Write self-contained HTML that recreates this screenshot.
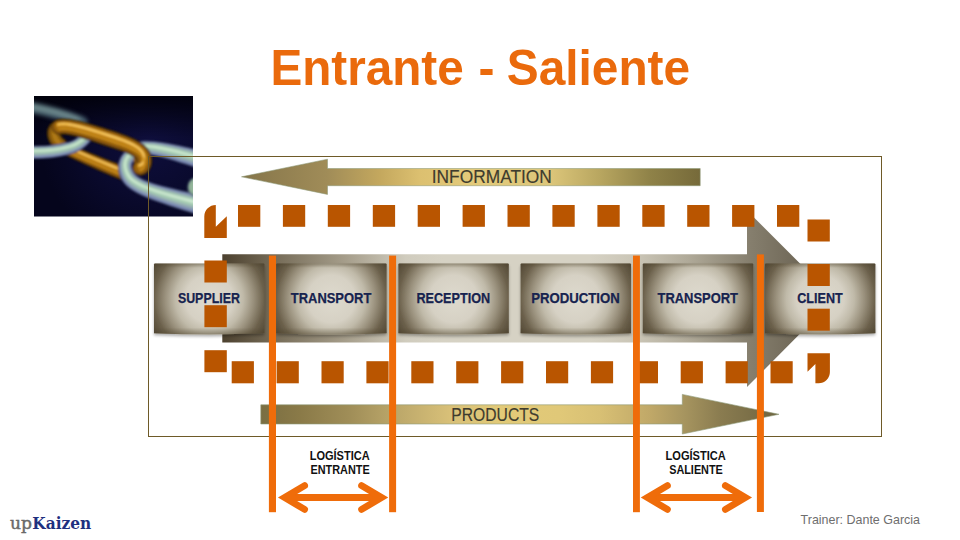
<!DOCTYPE html>
<html lang="es">
<head>
<meta charset="utf-8">
<title>Entrante - Saliente</title>
<style>
html,body{margin:0;padding:0;background:#fff;}
body{width:960px;height:540px;overflow:hidden;position:relative;font-family:"Liberation Sans",sans-serif;}
svg{position:absolute;left:0;top:0;display:block;}
text{font-family:"Liberation Sans",sans-serif;}
.title{font-weight:bold;font-size:48px;fill:#EA6A0C;}
.bl{font-weight:bold;font-size:14.6px;fill:#17234F;stroke:#17234F;stroke-width:0.25px;}
.arr{font-size:18.2px;fill:#3E3C2E;stroke:#3E3C2E;stroke-width:0.15px;}
.lg{font-weight:bold;font-size:12.2px;fill:#111;}
.tr{font-size:12.6px;fill:#6e6e6e;}
.up{font-family:"DejaVu Serif","Liberation Serif",serif;font-size:17.3px;fill:#6A6A6A;stroke:#6A6A6A;stroke-width:0.45px;}
.kz{font-family:"DejaVu Serif","Liberation Serif",serif;font-size:17.3px;font-weight:bold;fill:#1E3080;}
</style>
</head>
<body>
<svg width="960" height="540" viewBox="0 0 960 540">
<defs>
<radialGradient id="gbox" cx="55.2" cy="35.3" r="66" gradientUnits="userSpaceOnUse">
<stop offset="0" stop-color="#DEDACE"/>
<stop offset="0.36" stop-color="#D6D1C4"/>
<stop offset="0.515" stop-color="#C0BAA9"/>
<stop offset="0.667" stop-color="#9A917D"/>
<stop offset="0.833" stop-color="#6B604B"/>
<stop offset="1" stop-color="#4F4532"/>
</radialGradient>
<linearGradient id="gedge" gradientUnits="userSpaceOnUse" x1="0" y1="0" x2="0" y2="71">
<stop offset="0" stop-color="#50462F" stop-opacity="0.38"/>
<stop offset="0.06" stop-color="#50462F" stop-opacity="0"/>
<stop offset="0.9" stop-color="#50462F" stop-opacity="0"/>
<stop offset="1" stop-color="#50462F" stop-opacity="0.45"/>
</linearGradient>
<linearGradient id="gbig" gradientUnits="userSpaceOnUse" x1="222" y1="0" x2="835" y2="0">
<stop offset="0" stop-color="#4C412F"/>
<stop offset="0.08" stop-color="#736955"/>
<stop offset="0.2" stop-color="#A59D8A"/>
<stop offset="0.3" stop-color="#D0CCBE"/>
<stop offset="0.36" stop-color="#D6D2C4"/>
<stop offset="0.6" stop-color="#D6D2C4"/>
<stop offset="0.68" stop-color="#C9C4B5"/>
<stop offset="0.76" stop-color="#B0AA99"/>
<stop offset="0.86" stop-color="#867F6E"/>
<stop offset="1" stop-color="#5F5747"/>
</linearGradient>
<linearGradient id="ginfo" gradientUnits="userSpaceOnUse" x1="241" y1="0" x2="700" y2="0">
<stop offset="0.000" stop-color="#85754A"/>
<stop offset="0.187" stop-color="#A08C58"/>
<stop offset="0.303" stop-color="#C4A85E"/>
<stop offset="0.390" stop-color="#DCC070"/>
<stop offset="0.499" stop-color="#E3CA7A"/>
<stop offset="0.673" stop-color="#DCC67A"/>
<stop offset="0.782" stop-color="#B8A660"/>
<stop offset="0.891" stop-color="#8F8248"/>
<stop offset="1.000" stop-color="#766A3A"/>
</linearGradient>
<linearGradient id="gprod" gradientUnits="userSpaceOnUse" x1="261" y1="0" x2="779" y2="0">
<stop offset="0.000" stop-color="#7A6E42"/>
<stop offset="0.075" stop-color="#8A7A48"/>
<stop offset="0.172" stop-color="#A08E58"/>
<stop offset="0.249" stop-color="#B8A468"/>
<stop offset="0.365" stop-color="#D8C078"/>
<stop offset="0.461" stop-color="#E2CA78"/>
<stop offset="0.577" stop-color="#E0C878"/>
<stop offset="0.654" stop-color="#D8C074"/>
<stop offset="0.751" stop-color="#C0A868"/>
<stop offset="0.813" stop-color="#A89660"/>
<stop offset="0.886" stop-color="#8A7C50"/>
<stop offset="1.000" stop-color="#6E6440"/>
</linearGradient>
<filter id="bsh" x="-10%" y="-10%" width="120%" height="130%">
<feGaussianBlur in="SourceAlpha" stdDeviation="1.6"/>
<feOffset dx="0" dy="2.2" result="b"/>
<feComponentTransfer><feFuncA type="linear" slope="0.32"/></feComponentTransfer>
<feMerge><feMergeNode/><feMergeNode in="SourceGraphic"/></feMerge>
</filter>
<clipPath id="cimg"><rect x="34" y="96" width="159" height="120.6"/></clipPath>

<radialGradient id="cbg" gradientUnits="userSpaceOnUse" cx="150" cy="140" r="110">
<stop offset="0" stop-color="#0E0E3C"/>
<stop offset="0.5" stop-color="#0A0A2E"/>
<stop offset="1" stop-color="#05051C"/>
</radialGradient>
<linearGradient id="cbg2" x1="0" y1="0" x2="0" y2="1">
<stop offset="0" stop-color="#000008" stop-opacity="0.85"/>
<stop offset="0.35" stop-color="#000008" stop-opacity="0"/>
</linearGradient>
<filter id="cb1" x="-20%" y="-20%" width="140%" height="140%"><feGaussianBlur stdDeviation="0.9"/></filter>
<filter id="cb3" x="-20%" y="-50%" width="140%" height="200%"><feGaussianBlur stdDeviation="2.2"/></filter>

</defs>

<!-- title -->
<text y="0" transform="translate(0,84.7) scale(1,1.032)" class="title" xml:space="preserve"><tspan x="270.4" textLength="206.6" lengthAdjust="spacingAndGlyphs">Entrante </tspan><tspan x="478.5" textLength="29.3" lengthAdjust="spacingAndGlyphs">- </tspan><tspan x="506.8" textLength="183.3" lengthAdjust="spacingAndGlyphs">Saliente</tspan></text>

<!-- chain image -->
<g clip-path="url(#cimg)">
<rect x="34" y="96" width="159" height="121" fill="url(#cbg)"/>
<rect x="34" y="96" width="159" height="121" fill="url(#cbg2)"/>
<g fill="none" stroke-linecap="round" filter="url(#cb3)" opacity="0.8"><path d="M26 106.5 C45 110 62 114 82 122" stroke="#567682" stroke-width="11"/><path d="M26 105.5 C45 109 62 113 78 119" stroke="#8CAEAE" stroke-width="4.5"/></g>
<g filter="url(#cb1)">
<path d="M138.8 154.5 L141.2 154.3 L143.7 154.3 L146.5 154.6 L149.6 155.0 L153.0 155.6 L156.7 156.4 L160.7 157.3 L165.1 158.5 L169.7 159.8 L174.6 161.3 L179.9 162.9 L185.4 164.7 L191.3 166.6 L197.4 168.6 A9.5 9.5 0 0 0 202.6 150.4 L196.2 148.9 L190.1 147.5 L184.3 146.2 L178.7 145.1 L173.5 144.0 L168.5 143.1 L163.8 142.3 L159.3 141.7 L155.0 141.2 L151.0 140.9 L147.2 140.7 L143.6 140.8 L140.2 141.1 L137.2 141.5 A6.5 6.5 0 0 0 138.8 154.5 Z" fill="#2A3050" fill-opacity="1"/>
<path d="M138.7 153.7 L141.1 153.5 L143.7 153.5 L146.5 153.7 L149.7 154.1 L153.1 154.7 L156.9 155.5 L160.9 156.4 L165.3 157.5 L169.9 158.8 L174.9 160.3 L180.1 161.9 L185.7 163.6 L191.5 165.5 L197.7 167.5 A8.4 8.4 0 0 0 202.3 151.5 L195.9 149.9 L189.8 148.5 L184.0 147.2 L178.5 146.0 L173.3 145.0 L168.3 144.0 L163.6 143.2 L159.1 142.6 L154.9 142.1 L150.9 141.7 L147.2 141.6 L143.6 141.6 L140.2 141.9 L137.3 142.3 A5.7 5.7 0 0 0 138.7 153.7 Z" fill="#7886B2" fill-opacity="1"/>
<path d="M138.5 151.6 L141.0 151.4 L143.7 151.4 L146.6 151.6 L149.8 151.9 L153.4 152.5 L157.2 153.2 L161.3 154.1 L165.7 155.2 L170.4 156.4 L175.4 157.8 L180.7 159.4 L186.2 161.1 L192.1 162.9 L198.4 164.9 A6.1 6.1 0 0 0 201.6 153.1 L195.3 151.6 L189.2 150.1 L183.5 148.7 L178.0 147.5 L172.8 146.3 L167.9 145.4 L163.2 144.5 L158.8 143.8 L154.7 143.3 L150.8 142.9 L147.1 142.7 L143.6 142.7 L140.4 142.9 L137.5 143.4 A4.2 4.2 0 0 0 138.5 151.6 Z" fill="#94ACB2" fill-opacity="1"/>
<path d="M138.3 149.5 L140.9 149.2 L143.7 149.1 L146.7 149.3 L150.0 149.6 L153.6 150.1 L157.5 150.8 L161.7 151.7 L166.1 152.7 L170.9 153.9 L175.9 155.2 L181.2 156.7 L186.9 158.3 L192.8 160.1 L199.0 162.0 A3.6 3.6 0 0 0 201.0 155.0 L194.7 153.4 L188.6 151.8 L182.9 150.4 L177.5 149.1 L172.3 147.9 L167.4 146.9 L162.8 146.0 L158.5 145.2 L154.4 144.6 L150.6 144.2 L147.0 144.0 L143.6 144.0 L140.5 144.2 L137.7 144.5 A2.5 2.5 0 0 0 138.3 149.5 Z" fill="#A6CCB2" fill-opacity="1"/>
<path d="M138.1 147.2 L140.8 146.9 L143.6 146.8 L146.8 146.9 L150.2 147.2 L153.9 147.7 L157.8 148.4 L162.1 149.2 L166.6 150.2 L171.3 151.3 L176.4 152.6 L181.8 154.0 L187.4 155.6 L193.4 157.3 L199.7 159.1 A1.2 1.2 0 0 0 200.3 156.7 L194.0 155.0 L188.1 153.4 L182.4 151.9 L177.0 150.5 L171.8 149.3 L167.0 148.2 L162.4 147.2 L158.2 146.5 L154.1 145.8 L150.4 145.4 L146.9 145.1 L143.6 145.1 L140.6 145.2 L137.9 145.6 A0.8 0.8 0 0 0 138.1 147.2 Z" fill="#D6F0D8" fill-opacity="0.85"/>
<path d="M63.5 154.5 L65.8 155.6 L68.4 156.8 L71.3 158.1 L74.5 159.6 L77.9 161.2 L81.7 162.9 L85.7 164.8 L90.0 166.7 L94.6 168.7 L99.4 170.9 L104.5 173.1 L109.9 175.4 L115.5 177.8 L121.3 180.2 A7.2 7.2 0 0 0 126.7 166.8 L120.8 164.6 L115.1 162.4 L109.7 160.4 L104.6 158.4 L99.7 156.4 L95.1 154.6 L90.8 152.9 L86.8 151.2 L83.0 149.6 L79.5 148.2 L76.3 146.9 L73.4 145.6 L70.8 144.5 L68.5 143.5 A6.0 6.0 0 0 0 63.5 154.5 Z" fill="#2E1C02" fill-opacity="1"/>
<path d="M63.8 153.9 L66.1 155.0 L68.6 156.2 L71.5 157.6 L74.7 159.0 L78.2 160.6 L81.9 162.3 L85.9 164.2 L90.3 166.1 L94.8 168.1 L99.7 170.3 L104.8 172.5 L110.1 174.8 L115.7 177.1 L121.6 179.6 A6.5 6.5 0 0 0 126.4 167.4 L120.5 165.2 L114.9 163.1 L109.5 161.0 L104.3 159.0 L99.5 157.1 L94.9 155.2 L90.6 153.5 L86.5 151.8 L82.7 150.2 L79.2 148.8 L76.0 147.4 L73.1 146.2 L70.5 145.1 L68.2 144.1 A5.4 5.4 0 0 0 63.8 153.9 Z" fill="#754A08" fill-opacity="1"/>
<path d="M64.3 152.4 L66.6 153.5 L69.1 154.7 L72.0 156.0 L75.2 157.5 L78.7 159.1 L82.4 160.8 L86.5 162.6 L90.8 164.5 L95.3 166.5 L100.2 168.6 L105.3 170.8 L110.7 173.1 L116.3 175.4 L122.1 177.8 A5.1 5.1 0 0 0 125.9 168.4 L120.0 166.1 L114.3 164.0 L108.9 161.9 L103.8 159.8 L99.0 157.9 L94.4 156.0 L90.0 154.2 L86.0 152.6 L82.2 151.0 L78.7 149.5 L75.5 148.1 L72.6 146.9 L70.0 145.8 L67.7 144.8 A4.2 4.2 0 0 0 64.3 152.4 Z" fill="#96600C" fill-opacity="1"/>
<path d="M64.8 149.7 L67.1 150.8 L69.6 151.9 L72.5 153.3 L75.7 154.7 L79.2 156.3 L82.9 157.9 L87.0 159.7 L91.3 161.6 L95.9 163.6 L100.7 165.6 L105.8 167.8 L111.2 170.0 L116.8 172.4 L122.7 174.7 A3.0 3.0 0 0 0 124.9 169.1 L119.0 166.8 L113.4 164.6 L108.0 162.5 L102.9 160.4 L98.0 158.4 L93.4 156.5 L89.1 154.7 L85.1 153.0 L81.3 151.4 L77.8 149.9 L74.6 148.5 L71.7 147.3 L69.1 146.1 L66.8 145.1 A2.5 2.5 0 0 0 64.8 149.7 Z" fill="#B67A12" fill-opacity="1"/>
<path d="M65.3 147.3 L67.6 148.4 L70.2 149.5 L73.1 150.8 L76.2 152.3 L79.7 153.8 L83.5 155.5 L87.5 157.2 L91.8 159.1 L96.4 161.0 L101.3 163.1 L106.4 165.2 L111.7 167.4 L117.4 169.7 L123.2 172.0 A1.2 1.2 0 0 0 124.2 169.8 L118.3 167.4 L112.6 165.2 L107.3 163.0 L102.1 161.0 L97.3 158.9 L92.7 157.0 L88.4 155.2 L84.3 153.5 L80.6 151.8 L77.1 150.3 L73.9 148.9 L71.0 147.6 L68.4 146.5 L66.1 145.5 A1.0 1.0 0 0 0 65.3 147.3 Z" fill="#EDAE30" fill-opacity="1"/>
<path d="M65.6 146.4 L67.8 147.5 L70.4 148.6 L73.3 149.9 L76.5 151.3 L80.0 152.9 L83.8 154.5 L87.8 156.3 L92.1 158.1 L96.7 160.1 L101.5 162.1 L106.7 164.2 L112.0 166.4 L117.7 168.7 L123.5 171.0 A0.4 0.4 0 0 0 123.9 170.2 L118.0 167.9 L112.4 165.6 L107.0 163.4 L101.9 161.3 L97.0 159.3 L92.4 157.4 L88.1 155.6 L84.1 153.8 L80.3 152.2 L76.8 150.7 L73.6 149.2 L70.7 148.0 L68.1 146.8 L65.8 145.8 A0.4 0.4 0 0 0 65.6 146.4 Z" fill="#FFE08A" fill-opacity="0.9"/>
<path d="M65.9 152.1 L68.2 153.1 L70.8 154.3 L73.7 155.6 L76.9 157.0 L80.3 158.5 L84.1 160.2 L88.1 161.9 L92.5 163.8 L97.0 165.7 L101.9 167.8 L107.0 169.9 L112.4 172.1 L118.0 174.4 L123.9 176.7 A0.9 0.9 0 0 0 124.5 175.1 L118.6 172.8 L113.0 170.5 L107.6 168.4 L102.5 166.3 L97.7 164.3 L93.1 162.3 L88.8 160.5 L84.7 158.8 L81.0 157.1 L77.5 155.6 L74.3 154.2 L71.4 152.9 L68.8 151.8 L66.5 150.7 A0.7 0.7 0 0 0 65.9 152.1 Z" fill="#CC8E1C" fill-opacity="0.9"/>
<path d="M57.3 120.2 L55.1 120.8 L52.4 122.2 L50.0 124.2 L48.4 126.7 L47.3 129.3 L46.8 132.0 L46.8 134.7 L47.3 137.3 L48.1 139.9 L49.2 142.4 L50.7 144.7 L52.5 146.9 L54.7 149.0 L56.8 150.6 A7.0 7.0 0 0 0 65.2 139.4 L63.7 138.3 L62.8 137.4 L62.0 136.5 L61.5 135.6 L61.1 134.8 L60.9 134.1 L60.8 133.5 L60.8 133.2 L60.8 133.1 L60.7 133.2 L60.5 133.5 L60.2 133.8 L59.9 133.9 L60.7 133.8 A7.0 7.0 0 0 0 57.3 120.2 Z" fill="#2E1C02" fill-opacity="1"/>
<path d="M57.5 121.0 L55.4 121.6 L52.8 122.9 L50.7 124.8 L49.1 127.1 L48.1 129.6 L47.7 132.1 L47.7 134.7 L48.1 137.2 L48.9 139.6 L50.0 142.0 L51.4 144.2 L53.1 146.4 L55.2 148.3 L57.3 149.9 A6.2 6.2 0 0 0 64.7 140.1 L63.2 138.9 L62.2 138.0 L61.4 137.0 L60.8 136.0 L60.3 135.1 L60.1 134.3 L59.9 133.6 L59.9 133.1 L60.0 132.9 L60.0 132.8 L59.9 133.0 L59.7 133.1 L59.6 133.1 L60.5 133.0 A6.2 6.2 0 0 0 57.5 121.0 Z" fill="#6E4808" fill-opacity="1"/>
<path d="M58.3 122.8 L56.3 123.3 L54.1 124.4 L52.3 126.0 L51.0 127.9 L50.2 130.1 L49.8 132.3 L49.8 134.5 L50.2 136.7 L50.8 138.9 L51.9 141.1 L53.2 143.1 L54.8 145.1 L56.7 147.0 L58.7 148.5 A4.3 4.3 0 0 0 63.9 141.5 L62.3 140.3 L61.1 139.2 L60.2 138.1 L59.5 136.9 L58.9 135.8 L58.6 134.7 L58.4 133.8 L58.4 133.0 L58.5 132.4 L58.7 132.0 L58.8 131.7 L59.0 131.6 L59.3 131.4 L60.3 131.2 A4.3 4.3 0 0 0 58.3 122.8 Z" fill="#946410" fill-opacity="1"/>
<path d="M59.1 125.0 L57.4 125.4 L55.7 126.3 L54.3 127.5 L53.3 129.0 L52.6 130.7 L52.3 132.4 L52.3 134.3 L52.6 136.2 L53.2 138.1 L54.1 140.0 L55.3 141.8 L56.7 143.6 L58.4 145.2 L60.3 146.7 A2.1 2.1 0 0 0 62.9 143.3 L61.2 142.0 L59.8 140.7 L58.7 139.4 L57.8 138.0 L57.1 136.6 L56.7 135.2 L56.5 133.9 L56.5 132.8 L56.7 131.8 L57.0 130.9 L57.5 130.3 L58.1 129.7 L58.8 129.3 L60.1 129.0 A2.1 2.1 0 0 0 59.1 125.0 Z" fill="#B07A14" fill-opacity="1"/>
<path d="M25.7 158.7 L29.8 158.9 L34.0 158.9 L38.0 158.9 L42.0 158.7 L45.9 158.5 L49.7 158.2 L53.4 157.7 L57.0 157.2 L60.5 156.6 L63.9 156.0 L67.1 155.2 L70.3 154.3 L73.3 153.4 L76.3 152.3 L78.4 151.3 L80.2 150.3 L81.9 149.3 L83.5 148.2 L85.0 147.0 L86.5 145.8 L87.8 144.6 L89.0 143.3 L90.1 142.0 L91.2 140.7 L92.2 139.4 L93.2 138.0 L94.1 136.7 L95.0 135.4 A6.0 6.0 0 0 0 85.0 128.6 L84.2 129.9 L83.4 131.0 L82.6 132.1 L81.8 133.1 L80.9 134.0 L80.1 135.0 L79.2 135.8 L78.3 136.6 L77.4 137.4 L76.4 138.1 L75.3 138.8 L74.2 139.5 L72.9 140.2 L71.7 140.7 L69.4 141.5 L66.8 142.2 L64.1 142.9 L61.3 143.5 L58.3 144.0 L55.1 144.5 L51.9 144.9 L48.5 145.2 L45.0 145.4 L41.5 145.6 L37.8 145.6 L34.1 145.6 L30.2 145.5 L26.3 145.3 A6.8 6.8 0 0 0 25.7 158.7 Z" fill="#2A3050" fill-opacity="1"/>
<path d="M25.8 157.9 L29.9 158.1 L34.0 158.1 L38.0 158.1 L41.9 157.9 L45.8 157.7 L49.6 157.4 L53.3 157.0 L56.9 156.5 L60.3 155.9 L63.7 155.2 L66.9 154.5 L70.1 153.6 L73.1 152.7 L76.0 151.6 L78.1 150.6 L79.9 149.7 L81.5 148.6 L83.1 147.6 L84.6 146.4 L86.0 145.3 L87.3 144.0 L88.5 142.8 L89.6 141.5 L90.6 140.2 L91.6 138.9 L92.6 137.6 L93.5 136.3 L94.4 135.0 A5.3 5.3 0 0 0 85.6 129.0 L84.8 130.3 L84.0 131.4 L83.1 132.5 L82.3 133.5 L81.5 134.5 L80.6 135.5 L79.7 136.3 L78.8 137.2 L77.9 138.0 L76.8 138.7 L75.7 139.5 L74.5 140.2 L73.2 140.8 L72.0 141.4 L69.6 142.2 L67.1 142.9 L64.3 143.6 L61.4 144.3 L58.4 144.8 L55.2 145.3 L52.0 145.7 L48.6 146.0 L45.1 146.2 L41.5 146.3 L37.8 146.4 L34.1 146.4 L30.2 146.3 L26.2 146.1 A5.9 5.9 0 0 0 25.8 157.9 Z" fill="#7886B2" fill-opacity="1"/>
<path d="M25.8 155.8 L29.9 156.0 L34.0 156.0 L38.0 156.0 L41.9 155.8 L45.7 155.6 L49.5 155.3 L53.1 154.9 L56.6 154.4 L60.1 153.9 L63.4 153.2 L66.6 152.5 L69.7 151.7 L72.6 150.7 L75.5 149.7 L77.4 148.8 L79.1 147.9 L80.8 146.9 L82.3 145.9 L83.7 144.8 L85.0 143.7 L86.2 142.5 L87.4 141.3 L88.5 140.1 L89.5 138.8 L90.5 137.5 L91.4 136.3 L92.3 135.0 L93.2 133.7 A3.8 3.8 0 0 0 86.8 129.3 L86.0 130.6 L85.1 131.8 L84.3 132.9 L83.5 134.0 L82.6 135.0 L81.7 136.0 L80.8 136.9 L79.8 137.8 L78.8 138.6 L77.7 139.4 L76.5 140.2 L75.2 141.0 L73.9 141.7 L72.5 142.3 L70.1 143.1 L67.5 143.9 L64.7 144.6 L61.7 145.2 L58.7 145.8 L55.5 146.3 L52.2 146.7 L48.7 147.0 L45.2 147.3 L41.6 147.4 L37.8 147.5 L34.0 147.5 L30.2 147.4 L26.2 147.2 A4.3 4.3 0 0 0 25.8 155.8 Z" fill="#94ACB2" fill-opacity="1"/>
<path d="M25.9 153.6 L30.0 153.7 L34.0 153.8 L37.9 153.8 L41.8 153.6 L45.6 153.4 L49.3 153.1 L52.9 152.8 L56.4 152.3 L59.8 151.7 L63.1 151.1 L66.2 150.4 L69.2 149.6 L72.1 148.7 L74.9 147.7 L76.7 146.8 L78.4 146.0 L79.9 145.0 L81.3 144.0 L82.7 143.0 L83.9 142.0 L85.1 140.9 L86.2 139.7 L87.3 138.5 L88.3 137.3 L89.2 136.1 L90.1 134.8 L91.0 133.6 L91.9 132.3 A2.3 2.3 0 0 0 88.1 129.7 L87.3 131.0 L86.4 132.2 L85.6 133.3 L84.7 134.4 L83.8 135.5 L82.9 136.5 L81.9 137.5 L80.9 138.5 L79.8 139.4 L78.6 140.2 L77.4 141.1 L76.0 141.9 L74.6 142.6 L73.1 143.3 L70.6 144.2 L67.9 145.0 L65.1 145.7 L62.1 146.4 L58.9 146.9 L55.7 147.5 L52.3 147.9 L48.9 148.2 L45.3 148.5 L41.6 148.6 L37.9 148.7 L34.0 148.7 L30.1 148.6 L26.1 148.4 A2.6 2.6 0 0 0 25.9 153.6 Z" fill="#A6CCB2" fill-opacity="1"/>
<path d="M26.0 151.3 L30.0 151.4 L34.0 151.5 L37.9 151.5 L41.8 151.4 L45.5 151.2 L49.2 150.9 L52.7 150.5 L56.2 150.1 L59.5 149.6 L62.7 148.9 L65.8 148.2 L68.8 147.5 L71.6 146.6 L74.3 145.7 L76.0 144.9 L77.6 144.0 L79.1 143.1 L80.4 142.2 L81.7 141.2 L82.9 140.2 L84.1 139.2 L85.1 138.1 L86.1 136.9 L87.1 135.8 L88.0 134.6 L88.9 133.4 L89.8 132.1 L90.6 130.8 A0.8 0.8 0 0 0 89.4 130.0 L88.5 131.2 L87.6 132.5 L86.8 133.6 L85.9 134.8 L84.9 135.9 L84.0 137.0 L82.9 138.0 L81.9 139.0 L80.7 140.0 L79.5 140.9 L78.2 141.8 L76.8 142.6 L75.3 143.4 L73.7 144.1 L71.1 145.1 L68.3 145.9 L65.4 146.6 L62.4 147.3 L59.2 147.9 L55.9 148.4 L52.5 148.9 L49.0 149.2 L45.4 149.5 L41.7 149.7 L37.9 149.8 L34.0 149.8 L30.1 149.7 L26.0 149.5 A0.9 0.9 0 0 0 26.0 151.3 Z" fill="#D6F0D8" fill-opacity="0.85"/>
<path d="M135.5 146.7 L132.6 147.3 L129.5 148.5 L126.6 150.1 L124.1 152.1 L122.0 154.5 L120.3 157.2 L119.1 160.1 L118.3 163.1 L118.0 166.3 L118.2 169.5 L118.7 172.7 L119.7 175.9 L121.1 179.1 L123.1 182.4 L125.8 185.7 L129.1 188.6 L132.9 191.1 L137.0 193.5 L141.5 195.7 L146.4 197.8 L151.7 199.9 L157.3 202.0 L163.3 204.1 L169.5 206.2 L176.1 208.4 L182.9 210.6 L190.0 212.8 L197.3 215.1 A10.5 10.5 0 0 0 202.7 194.9 L195.2 193.2 L188.0 191.6 L181.1 190.1 L174.5 188.6 L168.3 187.1 L162.4 185.7 L157.0 184.2 L152.1 182.7 L147.7 181.1 L143.9 179.5 L140.7 177.9 L138.1 176.4 L136.2 174.9 L134.9 173.6 L134.0 172.2 L133.2 170.6 L132.6 169.1 L132.2 167.6 L132.1 166.4 L132.1 165.2 L132.3 164.2 L132.6 163.3 L133.0 162.5 L133.6 161.7 L134.3 161.0 L135.3 160.4 L136.5 159.8 L138.5 159.3 A6.5 6.5 0 0 0 135.5 146.7 Z" fill="#2A3050" fill-opacity="1"/>
<path d="M135.7 147.4 L132.8 148.1 L129.8 149.2 L127.1 150.7 L124.7 152.7 L122.7 154.9 L121.0 157.5 L119.9 160.3 L119.1 163.3 L118.9 166.3 L119.0 169.4 L119.6 172.5 L120.5 175.6 L121.9 178.7 L123.8 181.9 L126.4 185.0 L129.7 187.8 L133.3 190.3 L137.4 192.6 L141.9 194.8 L146.8 196.9 L152.0 199.0 L157.6 201.1 L163.6 203.1 L169.8 205.2 L176.4 207.3 L183.2 209.4 L190.3 211.6 L197.6 213.9 A9.2 9.2 0 0 0 202.4 196.1 L194.9 194.4 L187.7 192.8 L180.8 191.2 L174.2 189.6 L168.0 188.1 L162.1 186.6 L156.7 185.1 L151.8 183.6 L147.4 182.0 L143.5 180.4 L140.2 178.7 L137.6 177.1 L135.6 175.6 L134.2 174.1 L133.2 172.6 L132.4 170.9 L131.8 169.3 L131.4 167.8 L131.3 166.4 L131.3 165.1 L131.5 163.9 L131.9 162.9 L132.4 162.0 L133.0 161.2 L133.9 160.4 L134.9 159.7 L136.3 159.1 L138.3 158.6 A5.7 5.7 0 0 0 135.7 147.4 Z" fill="#7886B2" fill-opacity="1"/>
<path d="M136.0 148.5 L133.3 149.1 L130.5 150.1 L128.0 151.5 L125.8 153.3 L124.0 155.4 L122.5 157.8 L121.5 160.3 L120.8 163.0 L120.6 165.8 L120.7 168.7 L121.2 171.6 L122.2 174.5 L123.4 177.3 L125.2 180.3 L127.7 183.2 L130.7 185.9 L134.3 188.2 L138.2 190.5 L142.7 192.6 L147.5 194.6 L152.7 196.6 L158.2 198.6 L164.2 200.6 L170.4 202.6 L177.0 204.6 L183.8 206.7 L190.9 208.8 L198.3 211.0 A6.7 6.7 0 0 0 201.7 198.0 L194.3 196.2 L187.1 194.5 L180.2 192.9 L173.6 191.3 L167.4 189.7 L161.5 188.1 L156.1 186.5 L151.1 184.9 L146.6 183.2 L142.7 181.5 L139.3 179.8 L136.5 178.1 L134.3 176.4 L132.8 174.7 L131.7 172.9 L130.8 171.0 L130.1 169.2 L129.7 167.5 L129.6 165.8 L129.6 164.3 L129.9 162.9 L130.4 161.7 L131.0 160.5 L131.9 159.5 L132.9 158.6 L134.2 157.8 L135.8 157.1 L138.0 156.5 A4.2 4.2 0 0 0 136.0 148.5 Z" fill="#94ACB2" fill-opacity="1"/>
<path d="M136.4 149.6 L133.8 150.2 L131.3 151.2 L129.0 152.5 L127.1 154.1 L125.4 155.9 L124.1 158.1 L123.2 160.3 L122.6 162.8 L122.4 165.3 L122.5 167.9 L123.0 170.6 L123.9 173.3 L125.1 175.9 L126.7 178.7 L129.0 181.3 L131.9 183.8 L135.3 186.0 L139.1 188.2 L143.5 190.2 L148.2 192.1 L153.4 194.1 L158.9 196.0 L164.8 197.9 L171.1 199.8 L177.6 201.7 L184.5 203.7 L191.6 205.7 L199.0 207.9 A4.0 4.0 0 0 0 201.0 200.1 L193.6 198.3 L186.4 196.5 L179.5 194.8 L173.0 193.1 L166.7 191.4 L160.9 189.7 L155.4 188.1 L150.4 186.4 L145.8 184.6 L141.8 182.9 L138.3 181.0 L135.3 179.1 L133.0 177.3 L131.3 175.3 L130.0 173.3 L129.0 171.2 L128.3 169.2 L127.9 167.2 L127.7 165.3 L127.8 163.6 L128.2 161.9 L128.8 160.4 L129.6 159.0 L130.7 157.7 L131.9 156.6 L133.5 155.7 L135.3 155.0 L137.6 154.4 A2.5 2.5 0 0 0 136.4 149.6 Z" fill="#A6CCB2" fill-opacity="1"/>
<path d="M136.8 150.6 L134.3 151.2 L132.0 152.1 L130.0 153.2 L128.2 154.7 L126.8 156.3 L125.7 158.2 L124.8 160.3 L124.3 162.4 L124.1 164.7 L124.3 167.1 L124.8 169.5 L125.6 172.0 L126.7 174.5 L128.2 177.0 L130.3 179.4 L133.0 181.7 L136.3 183.8 L140.0 185.8 L144.2 187.8 L148.9 189.6 L154.0 191.5 L159.5 193.3 L165.4 195.1 L171.7 197.0 L178.3 198.8 L185.1 200.7 L192.3 202.7 L199.6 204.7 A1.4 1.4 0 0 0 200.4 202.1 L193.0 200.1 L185.8 198.3 L178.9 196.4 L172.3 194.7 L166.1 192.9 L160.2 191.2 L154.7 189.4 L149.7 187.7 L145.0 185.9 L140.9 184.0 L137.3 182.1 L134.2 180.1 L131.7 178.0 L129.8 175.8 L128.4 173.6 L127.3 171.3 L126.6 169.1 L126.1 166.9 L126.0 164.7 L126.1 162.7 L126.5 160.8 L127.3 159.0 L128.2 157.4 L129.5 155.9 L131.0 154.7 L132.8 153.6 L134.8 152.8 L137.2 152.2 A0.8 0.8 0 0 0 136.8 150.6 Z" fill="#D6F0D8" fill-opacity="0.85"/>
<ellipse cx="140.5" cy="160" rx="7" ry="9" fill="#8A5A0A"/>
<path d="M60.0 134.8 L61.6 134.5 L63.3 134.5 L65.6 134.6 L68.3 135.0 L71.5 135.6 L75.1 136.4 L79.0 137.5 L83.2 138.7 L87.7 140.1 L92.4 141.6 L97.4 143.2 L102.5 145.0 L107.9 146.8 L113.3 148.5 L117.0 149.7 L120.3 150.8 L123.4 152.0 L126.2 153.1 L128.6 154.2 L130.7 155.3 L132.5 156.3 L133.9 157.3 L134.9 158.2 L135.6 158.9 L136.0 159.5 L136.2 159.9 L136.4 160.3 L136.4 161.2 L136.4 161.2 L136.4 161.5 L136.4 161.7 L136.3 161.8 L136.3 161.8 L136.4 161.7 L136.5 161.6 L136.7 161.3 L137.0 161.1 L137.3 160.8 L137.8 160.6 L138.3 160.4 L138.9 160.3 L138.9 160.3 A7.8 7.8 0 0 0 140.1 175.7 L141.1 175.6 L142.8 175.3 L144.3 174.7 L145.7 174.0 L147.0 173.0 L148.1 172.0 L149.1 170.8 L149.9 169.6 L150.6 168.3 L151.1 166.9 L151.6 165.5 L151.9 164.1 L152.1 162.7 L152.2 160.8 L152.0 157.9 L151.2 154.8 L150.0 151.8 L148.3 149.2 L146.2 146.8 L144.0 144.8 L141.5 142.9 L138.8 141.2 L135.9 139.6 L132.9 138.1 L129.6 136.7 L126.2 135.3 L122.5 133.9 L118.7 132.5 L113.1 130.6 L107.7 128.9 L102.5 127.3 L97.4 125.8 L92.4 124.3 L87.7 123.0 L83.1 121.8 L78.7 120.8 L74.6 120.0 L70.7 119.3 L66.9 118.9 L63.3 118.8 L59.8 119.0 L57.0 119.6 A7.8 7.8 0 0 0 60.0 134.8 Z" fill="#2E1C02" fill-opacity="1"/>
<path d="M59.8 134.1 L61.5 133.7 L63.3 133.7 L65.6 133.8 L68.5 134.2 L71.7 134.8 L75.3 135.6 L79.2 136.7 L83.5 137.9 L87.9 139.3 L92.7 140.8 L97.6 142.4 L102.8 144.2 L108.1 146.0 L113.6 147.7 L117.2 148.9 L120.6 150.0 L123.7 151.2 L126.5 152.3 L129.0 153.5 L131.1 154.6 L132.9 155.7 L134.4 156.7 L135.5 157.6 L136.2 158.4 L136.7 159.1 L137.0 159.7 L137.1 160.2 L137.2 161.2 L137.2 161.3 L137.2 161.6 L137.1 161.9 L137.1 162.0 L137.1 162.1 L137.1 162.1 L137.1 162.0 L137.3 161.9 L137.5 161.7 L137.8 161.5 L138.1 161.3 L138.6 161.1 L139.0 161.1 L139.0 161.0 A7.0 7.0 0 0 0 140.0 175.0 L141.0 174.9 L142.5 174.5 L144.0 174.0 L145.3 173.3 L146.5 172.4 L147.5 171.4 L148.5 170.4 L149.2 169.2 L149.9 167.9 L150.4 166.7 L150.8 165.3 L151.1 164.0 L151.3 162.6 L151.4 160.8 L151.2 158.0 L150.5 155.0 L149.3 152.2 L147.6 149.7 L145.7 147.4 L143.5 145.4 L141.0 143.6 L138.4 141.9 L135.6 140.4 L132.5 138.9 L129.3 137.5 L125.9 136.1 L122.2 134.7 L118.4 133.3 L112.9 131.4 L107.5 129.7 L102.2 128.1 L97.1 126.6 L92.2 125.1 L87.4 123.8 L82.9 122.6 L78.6 121.6 L74.5 120.8 L70.5 120.1 L66.8 119.7 L63.3 119.6 L59.9 119.8 L57.2 120.3 A7.0 7.0 0 0 0 59.8 134.1 Z" fill="#754A08" fill-opacity="1"/>
<path d="M59.5 132.1 L61.4 131.8 L63.3 131.7 L65.8 131.9 L68.7 132.2 L72.0 132.9 L75.7 133.7 L79.6 134.7 L83.9 135.9 L88.4 137.3 L93.2 138.8 L98.1 140.4 L103.3 142.2 L108.6 143.9 L114.1 145.7 L117.8 146.9 L121.2 148.1 L124.3 149.3 L127.2 150.5 L129.7 151.6 L131.9 152.8 L133.8 153.9 L135.4 155.0 L136.6 156.1 L137.5 157.1 L138.1 157.9 L138.5 158.8 L138.7 159.6 L138.8 160.7 L138.8 161.0 L138.7 161.5 L138.6 161.9 L138.6 162.2 L138.5 162.4 L138.4 162.5 L138.4 162.5 L138.4 162.5 L138.5 162.5 L138.6 162.4 L138.8 162.3 L139.0 162.2 L139.3 162.2 L139.1 162.2 A5.4 5.4 0 0 0 139.9 173.0 L140.8 172.9 L142.1 172.7 L143.3 172.2 L144.5 171.6 L145.5 170.8 L146.4 170.0 L147.2 169.0 L147.9 168.0 L148.5 166.9 L148.9 165.8 L149.3 164.6 L149.6 163.3 L149.7 162.0 L149.8 160.5 L149.7 157.9 L149.0 155.1 L147.9 152.6 L146.4 150.2 L144.5 148.1 L142.4 146.3 L140.1 144.5 L137.6 142.9 L134.8 141.4 L131.9 140.0 L128.7 138.6 L125.3 137.2 L121.7 135.9 L117.9 134.5 L112.3 132.6 L106.9 130.9 L101.7 129.3 L96.6 127.7 L91.7 126.3 L87.0 125.0 L82.5 123.8 L78.2 122.8 L74.1 121.9 L70.3 121.3 L66.7 120.9 L63.3 120.8 L60.1 121.0 L57.5 121.5 A5.4 5.4 0 0 0 59.5 132.1 Z" fill="#96600C" fill-opacity="1"/>
<path d="M58.9 128.8 L60.9 128.4 L63.1 128.3 L65.8 128.5 L68.8 128.9 L72.2 129.5 L76.0 130.3 L80.0 131.3 L84.3 132.5 L88.9 133.9 L93.7 135.4 L98.7 137.0 L103.8 138.7 L109.2 140.5 L114.7 142.3 L118.4 143.5 L121.8 144.7 L125.0 145.9 L127.9 147.2 L130.5 148.4 L132.9 149.6 L134.9 150.8 L136.6 152.1 L138.0 153.3 L139.1 154.5 L139.9 155.7 L140.4 156.8 L140.7 158.0 L140.8 159.5 L140.8 160.0 L140.7 160.7 L140.6 161.2 L140.4 161.7 L140.3 162.1 L140.1 162.4 L140.0 162.6 L139.8 162.8 L139.7 163.0 L139.6 163.0 L139.5 163.1 L139.4 163.1 L139.4 163.1 L139.1 163.2 A3.3 3.3 0 0 0 139.5 169.6 L140.3 169.6 L141.3 169.4 L142.2 169.0 L143.1 168.6 L143.9 168.0 L144.6 167.3 L145.2 166.5 L145.8 165.7 L146.3 164.8 L146.7 163.8 L147.0 162.8 L147.2 161.8 L147.3 160.6 L147.4 159.3 L147.3 157.0 L146.7 154.7 L145.7 152.4 L144.4 150.4 L142.7 148.5 L140.8 146.8 L138.7 145.2 L136.3 143.7 L133.6 142.3 L130.7 140.9 L127.6 139.5 L124.3 138.2 L120.7 136.9 L116.9 135.5 L111.4 133.7 L106.0 132.0 L100.8 130.3 L95.7 128.8 L90.8 127.3 L86.2 126.0 L81.7 124.8 L77.5 123.7 L73.5 122.9 L69.8 122.3 L66.3 121.9 L63.1 121.8 L60.1 121.9 L57.7 122.4 A3.3 3.3 0 0 0 58.9 128.8 Z" fill="#B67A12" fill-opacity="1"/>
<path d="M58.4 125.9 L60.6 125.5 L63.0 125.4 L65.8 125.5 L69.0 125.9 L72.5 126.5 L76.3 127.4 L80.4 128.4 L84.8 129.6 L89.4 130.9 L94.2 132.4 L99.2 134.0 L104.4 135.7 L109.7 137.5 L115.2 139.3 L119.0 140.5 L122.4 141.8 L125.7 143.0 L128.6 144.3 L131.3 145.6 L133.8 146.9 L135.9 148.2 L137.8 149.5 L139.3 150.9 L140.5 152.3 L141.5 153.7 L142.2 155.2 L142.6 156.7 L142.7 158.4 L142.6 159.2 L142.5 160.0 L142.4 160.7 L142.2 161.3 L142.0 161.9 L141.7 162.4 L141.4 162.8 L141.1 163.2 L140.8 163.5 L140.5 163.7 L140.2 163.9 L139.9 164.0 L139.5 164.1 L139.1 164.1 A1.3 1.3 0 0 0 139.3 166.7 L139.9 166.7 L140.6 166.5 L141.3 166.3 L141.9 165.9 L142.5 165.5 L143.1 165.0 L143.6 164.4 L144.0 163.7 L144.4 163.0 L144.7 162.2 L145.0 161.3 L145.2 160.4 L145.3 159.5 L145.3 158.4 L145.2 156.3 L144.7 154.3 L143.9 152.4 L142.7 150.6 L141.2 148.9 L139.5 147.4 L137.4 145.9 L135.1 144.5 L132.6 143.1 L129.8 141.7 L126.7 140.4 L123.4 139.1 L119.9 137.8 L116.2 136.5 L110.6 134.7 L105.3 133.0 L100.1 131.3 L95.0 129.7 L90.2 128.3 L85.5 126.9 L81.1 125.7 L76.9 124.7 L73.0 123.9 L69.4 123.2 L66.1 122.8 L63.0 122.7 L60.3 122.9 L58.0 123.3 A1.3 1.3 0 0 0 58.4 125.9 Z" fill="#EDAE30" fill-opacity="1"/>
<path d="M58.3 124.8 L60.5 124.3 L63.0 124.2 L65.9 124.3 L69.1 124.7 L72.7 125.4 L76.5 126.2 L80.6 127.2 L85.0 128.4 L89.6 129.8 L94.4 131.2 L99.5 132.8 L104.7 134.5 L110.0 136.3 L115.5 138.1 L119.3 139.4 L122.8 140.6 L126.0 141.9 L129.0 143.2 L131.7 144.5 L134.2 145.8 L136.4 147.1 L138.3 148.5 L139.9 150.0 L141.2 151.4 L142.3 153.0 L143.0 154.6 L143.4 156.3 L143.5 158.1 L143.5 159.0 L143.4 159.8 L143.2 160.6 L143.0 161.3 L142.7 161.9 L142.5 162.5 L142.1 163.0 L141.8 163.4 L141.4 163.8 L141.0 164.1 L140.6 164.3 L140.1 164.5 L139.7 164.6 L139.2 164.6 A0.5 0.5 0 0 0 139.2 165.6 L139.8 165.5 L140.4 165.4 L140.9 165.2 L141.5 164.9 L142.0 164.5 L142.4 164.1 L142.9 163.6 L143.3 163.0 L143.6 162.3 L143.9 161.6 L144.1 160.8 L144.3 160.0 L144.4 159.1 L144.5 158.1 L144.3 156.2 L143.9 154.3 L143.1 152.5 L142.0 150.9 L140.6 149.3 L138.9 147.8 L136.9 146.3 L134.7 144.9 L132.2 143.6 L129.4 142.3 L126.4 141.0 L123.1 139.7 L119.6 138.4 L115.9 137.1 L110.4 135.3 L105.0 133.6 L99.8 131.9 L94.7 130.3 L89.9 128.8 L85.3 127.5 L80.9 126.3 L76.7 125.3 L72.9 124.4 L69.3 123.8 L66.0 123.4 L63.0 123.3 L60.4 123.4 L58.1 123.8 A0.5 0.5 0 0 0 58.3 124.8 Z" fill="#FFE08A" fill-opacity="0.9"/>
<path d="M58.9 130.5 L61.0 130.1 L63.5 130.0 L66.4 130.1 L69.6 130.5 L73.1 131.1 L76.9 132.0 L81.0 133.0 L85.4 134.2 L90.0 135.5 L94.8 137.0 L99.8 138.6 L105.0 140.3 L110.4 142.1 L115.9 143.9 L119.6 145.1 L123.1 146.4 L126.3 147.6 L129.3 148.9 L132.0 150.2 L134.5 151.5 L136.6 152.8 L138.5 154.2 L140.1 155.6 L141.4 157.0 L142.3 158.5 L143.0 160.1 L143.4 161.7 L143.6 163.4 L143.5 164.2 L143.4 165.0 L143.3 165.8 L143.1 166.4 L142.8 167.0 L142.5 167.6 L142.2 168.0 L141.9 168.4 L141.6 168.7 L141.2 169.0 L140.9 169.2 L140.5 169.4 L140.1 169.4 L139.6 169.5 A0.9 0.9 0 0 0 139.8 171.3 L140.4 171.3 L141.0 171.1 L141.6 170.9 L142.2 170.6 L142.8 170.2 L143.3 169.7 L143.8 169.1 L144.2 168.5 L144.5 167.8 L144.8 167.1 L145.1 166.2 L145.3 165.4 L145.4 164.4 L145.4 163.4 L145.3 161.4 L144.8 159.4 L144.0 157.6 L142.9 155.9 L141.4 154.2 L139.7 152.7 L137.7 151.2 L135.4 149.8 L132.9 148.4 L130.1 147.1 L127.1 145.8 L123.8 144.5 L120.3 143.2 L116.5 141.9 L111.0 140.1 L105.6 138.4 L100.4 136.7 L95.4 135.1 L90.5 133.7 L85.9 132.3 L81.5 131.1 L77.4 130.1 L73.5 129.3 L69.8 128.6 L66.5 128.2 L63.5 128.1 L60.8 128.2 L58.5 128.7 A0.9 0.9 0 0 0 58.9 130.5 Z" fill="#CC8E1C" fill-opacity="0.9"/>
<ellipse cx="196" cy="187" rx="8" ry="9" fill="#93B59A" stroke="#566A74" stroke-width="1.5"/>
</g>
</g>

<!-- frame -->
<rect x="148.5" y="156.5" width="733" height="280" fill="none" stroke="#6E5A28" stroke-width="1"/>

<!-- info arrow -->
<path d="M241.5 176.8 L327.5 159.2 V168.5 H700.2 V185.7 H327.5 V194.4 Z" fill="url(#ginfo)" stroke="#8E9A78" stroke-width="0.7" stroke-opacity="0.8"/>
<text x="431.8" y="183" class="arr" textLength="120" lengthAdjust="spacingAndGlyphs">INFORMATION</text>

<!-- big arrow -->
<path d="M222.3 254.3 H747 V210.5 L835 298.5 L747 387 V342.4 H222.3 Z" fill="url(#gbig)"/>

<!-- boxes -->
<g transform="translate(154.0,263.6)"><path d="M1 0 H109.4 Q110.4 0 110.4 1 V69.6 Q55.2 72.2 0 69.6 V1 Q0 0 1 0 Z" fill="url(#gbox)" filter="url(#bsh)"/><path d="M1 0 H109.4 Q110.4 0 110.4 1 V69.6 Q55.2 72.2 0 69.6 V1 Q0 0 1 0 Z" fill="url(#gedge)"/></g>
<g transform="translate(276.2,263.6)"><path d="M1 0 H109.4 Q110.4 0 110.4 1 V69.6 Q55.2 72.2 0 69.6 V1 Q0 0 1 0 Z" fill="url(#gbox)" filter="url(#bsh)"/><path d="M1 0 H109.4 Q110.4 0 110.4 1 V69.6 Q55.2 72.2 0 69.6 V1 Q0 0 1 0 Z" fill="url(#gedge)"/></g>
<g transform="translate(398.4,263.6)"><path d="M1 0 H109.4 Q110.4 0 110.4 1 V69.6 Q55.2 72.2 0 69.6 V1 Q0 0 1 0 Z" fill="url(#gbox)" filter="url(#bsh)"/><path d="M1 0 H109.4 Q110.4 0 110.4 1 V69.6 Q55.2 72.2 0 69.6 V1 Q0 0 1 0 Z" fill="url(#gedge)"/></g>
<g transform="translate(520.6,263.6)"><path d="M1 0 H109.4 Q110.4 0 110.4 1 V69.6 Q55.2 72.2 0 69.6 V1 Q0 0 1 0 Z" fill="url(#gbox)" filter="url(#bsh)"/><path d="M1 0 H109.4 Q110.4 0 110.4 1 V69.6 Q55.2 72.2 0 69.6 V1 Q0 0 1 0 Z" fill="url(#gedge)"/></g>
<g transform="translate(642.8,263.6)"><path d="M1 0 H109.4 Q110.4 0 110.4 1 V69.6 Q55.2 72.2 0 69.6 V1 Q0 0 1 0 Z" fill="url(#gbox)" filter="url(#bsh)"/><path d="M1 0 H109.4 Q110.4 0 110.4 1 V69.6 Q55.2 72.2 0 69.6 V1 Q0 0 1 0 Z" fill="url(#gedge)"/></g>
<g transform="translate(765.0,263.6)"><path d="M1 0 H109.4 Q110.4 0 110.4 1 V69.6 Q55.2 72.2 0 69.6 V1 Q0 0 1 0 Z" fill="url(#gbox)" filter="url(#bsh)"/><path d="M1 0 H109.4 Q110.4 0 110.4 1 V69.6 Q55.2 72.2 0 69.6 V1 Q0 0 1 0 Z" fill="url(#gedge)"/></g>

<!-- dashed frame -->
<rect x="238.0" y="205" width="22.3" height="21.8" fill="#B95500"/>
<rect x="282.9" y="205" width="22.3" height="21.8" fill="#B95500"/>
<rect x="327.8" y="205" width="22.3" height="21.8" fill="#B95500"/>
<rect x="372.8" y="205" width="22.3" height="21.8" fill="#B95500"/>
<rect x="417.7" y="205" width="22.3" height="21.8" fill="#B95500"/>
<rect x="462.6" y="205" width="22.3" height="21.8" fill="#B95500"/>
<rect x="507.5" y="205" width="22.3" height="21.8" fill="#B95500"/>
<rect x="552.4" y="205" width="22.3" height="21.8" fill="#B95500"/>
<rect x="597.4" y="205" width="22.3" height="21.8" fill="#B95500"/>
<rect x="642.3" y="205" width="22.3" height="21.8" fill="#B95500"/>
<rect x="687.2" y="205" width="22.3" height="21.8" fill="#B95500"/>
<rect x="732.1" y="205" width="22.3" height="21.8" fill="#B95500"/>
<rect x="777.0" y="205" width="22.3" height="21.8" fill="#B95500"/>
<rect x="231.7" y="361.2" width="22.2" height="22.1" fill="#B95500"/>
<rect x="276.6" y="361.2" width="22.2" height="22.1" fill="#B95500"/>
<rect x="321.5" y="361.2" width="22.2" height="22.1" fill="#B95500"/>
<rect x="366.4" y="361.2" width="22.2" height="22.1" fill="#B95500"/>
<rect x="411.3" y="361.2" width="22.2" height="22.1" fill="#B95500"/>
<rect x="456.2" y="361.2" width="22.2" height="22.1" fill="#B95500"/>
<rect x="501.1" y="361.2" width="22.2" height="22.1" fill="#B95500"/>
<rect x="546.0" y="361.2" width="22.2" height="22.1" fill="#B95500"/>
<rect x="590.9" y="361.2" width="22.2" height="22.1" fill="#B95500"/>
<rect x="635.8" y="361.2" width="22.2" height="22.1" fill="#B95500"/>
<rect x="680.7" y="361.2" width="22.2" height="22.1" fill="#B95500"/>
<rect x="725.6" y="361.2" width="22.2" height="22.1" fill="#B95500"/>
<rect x="770.5" y="361.2" width="22.2" height="22.1" fill="#B95500"/>
<rect x="204.4" y="260.5" width="22.4" height="22" fill="#B95500"/>
<rect x="204.4" y="305.2" width="22.4" height="22" fill="#B95500"/>
<rect x="204.4" y="350.2" width="22.4" height="22" fill="#B95500"/>
<rect x="807.5" y="219.5" width="22.3" height="22" fill="#B95500"/>
<rect x="807.5" y="264.0" width="22.3" height="22" fill="#B95500"/>
<rect x="807.5" y="308.7" width="22.3" height="22" fill="#B95500"/>
<path d="M204.3 238 V216.5 A11.5 11.5 0 0 1 215.8 205 V226.8 L226.8 216.2 V238 Z" fill="#B95500"/>
<path d="M807.5 353.3 H829.9 V372 A11.3 11.3 0 0 1 818.6 383.3 H815.4 V364 L807.5 371.7 Z" fill="#B95500"/>

<!-- products arrow -->
<path d="M260.8 404.8 H682.3 V394.4 L779 414.3 L682.3 434 V424 H260.8 Z" fill="url(#gprod)" stroke="#8E9A78" stroke-width="0.6"/>
<text x="451.3" y="420.8" class="arr" textLength="88" lengthAdjust="spacingAndGlyphs">PRODUCTS</text>

<!-- orange lines -->
<g fill="#EF6C0A">
<rect x="268.9" y="255.6" width="7.1" height="256.6"/>
<rect x="389.1" y="255.6" width="7.0" height="256.6"/>
<rect x="633.0" y="255.6" width="6.9" height="256.6"/>
<rect x="756.9" y="254.4" width="7.0" height="257.6"/>
</g>

<!-- box labels -->
<text x="177.9" y="303.2" textLength="62" lengthAdjust="spacingAndGlyphs" class="bl">SUPPLIER</text>
<text x="290.8" y="303.2" textLength="80.5" lengthAdjust="spacingAndGlyphs" class="bl">TRANSPORT</text>
<text x="416.4" y="303.2" textLength="73.7" lengthAdjust="spacingAndGlyphs" class="bl">RECEPTION</text>
<text x="531.2" y="303.2" textLength="88.6" lengthAdjust="spacingAndGlyphs" class="bl">PRODUCTION</text>
<text x="657.5" y="303.2" textLength="80.5" lengthAdjust="spacingAndGlyphs" class="bl">TRANSPORT</text>
<text x="797.2" y="303.2" textLength="45.5" lengthAdjust="spacingAndGlyphs" class="bl">CLIENT</text>

<!-- double arrows -->
<g fill="none" stroke="#EF6C0A" stroke-width="6.8" stroke-linecap="round" stroke-linejoin="miter">
<path d="M287 497.5 H379"/>
<path d="M304.6 485.6 L284.6 497.5 L304.6 509.4"/>
<path d="M361.6 485.6 L381.6 497.5 L361.6 509.4"/>
<path d="M650 497.5 H743"/>
<path d="M667.4 485.6 L647.4 497.5 L667.4 509.4"/>
<path d="M725.4 485.6 L745.4 497.5 L725.4 509.4"/>
</g>

<!-- logistic labels -->
<text x="309.7" y="460.2" class="lg" textLength="60" lengthAdjust="spacingAndGlyphs">LOGÍSTICA</text>
<text x="310.5" y="474" class="lg" textLength="59.2" lengthAdjust="spacingAndGlyphs">ENTRANTE</text>
<text x="665.5" y="460.2" class="lg" textLength="60.3" lengthAdjust="spacingAndGlyphs">LOGÍSTICA</text>
<text x="669.2" y="474" class="lg" textLength="53.6" lengthAdjust="spacingAndGlyphs">SALIENTE</text>

<!-- footer -->
<text x="10" y="528.5" class="up" textLength="22" lengthAdjust="spacingAndGlyphs">up</text>
<text x="32.3" y="528.5" class="kz" textLength="59" lengthAdjust="spacingAndGlyphs">Kaizen</text>
<text x="800.6" y="524.2" class="tr" textLength="119.4" lengthAdjust="spacingAndGlyphs">Trainer: Dante Garcia</text>
</svg>
</body>
</html>
